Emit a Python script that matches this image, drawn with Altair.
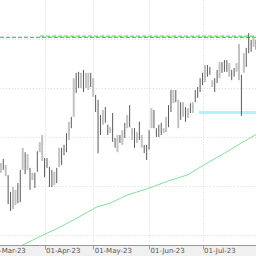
import altair as alt
import pandas as pd

# ---- data (prices in arbitrary units, gridlines every 5) ----
bar_kind = ("LDLDDLLDDL" "DLDLDDLLDD" "DDLDLDDDLD" "LDDLDLLDLD" "DDLDDLDDLD"
            "LDLDLDLDLD" "DDLDDDDLLD" "DLDLDLDLDL" "DDDDLDDLDD" "LDDDLDDLLD" "LDDDLD")
highs = [114.8, 115.6, 114.4, 112.3, 108.9, 109.9, 109.3, 110.7, 113.4, 117.9,
         117.0, 116.6, 113.8, 112.8, 112.8, 117.2, 119.1, 120.5, 115.8, 115.8,
         114.0, 113.4, 113.0, 113.8, 117.9, 117.9, 118.5, 120.9, 123.2, 124.2,
         132.1, 133.2, 133.4, 133.2, 133.8, 133.2, 133.2, 133.2, 132.1, 128.7,
         127.7, 124.6, 125.6, 126.2, 122.6, 122.1, 125.0, 119.9, 120.5, 120.5,
         121.5, 123.0, 124.6, 126.6, 121.9, 121.9, 121.1, 123.2, 120.5, 118.5,
         118.5, 121.5, 126.0, 125.6, 121.9, 122.6, 123.0, 121.9, 124.2, 126.6,
         129.7, 129.7, 129.7, 127.7, 127.2, 127.2, 126.2, 126.0, 127.0, 127.2,
         129.7, 130.3, 132.1, 133.2, 134.8, 134.8, 134.4, 131.7, 132.1, 133.8,
         135.4, 135.4, 135.8, 135.8, 135.2, 133.8, 134.2, 135.2, 139.1, 132.8,
         137.2, 138.3, 141.3, 139.9, 140.5, 139.9]
lows = [112.8, 113.4, 112.1, 106.4, 105.0, 105.4, 106.2, 106.6, 106.8, 113.4,
        112.5, 113.4, 109.3, 111.3, 109.7, 113.0, 117.0, 115.2, 111.9, 113.8,
        109.9, 109.9, 110.3, 110.7, 114.0, 114.4, 116.4, 117.0, 119.5, 121.9,
        124.2, 129.1, 130.1, 130.1, 129.3, 130.1, 129.7, 130.3, 128.3, 125.2,
        116.8, 120.5, 122.6, 123.0, 120.5, 120.9, 119.1, 117.9, 117.0, 118.9,
        118.5, 119.9, 121.9, 122.1, 119.5, 117.9, 118.9, 119.5, 117.9, 116.8,
        115.4, 117.5, 121.9, 121.9, 120.1, 120.1, 120.5, 120.9, 121.1, 122.1,
        125.2, 127.0, 127.2, 121.9, 123.6, 124.2, 123.2, 124.0, 125.0, 125.0,
        127.2, 128.1, 129.3, 130.7, 131.3, 132.4, 132.8, 130.3, 129.3, 131.1,
        132.1, 133.2, 133.4, 133.4, 132.4, 131.7, 132.4, 133.4, 131.7, 124.4,
        133.2, 134.4, 137.2, 137.5, 138.5, 137.9]

# moving average (trading-day position, value)
ma_pos = [4.65, 12.9, 23.2, 29.3, 37.6, 44.4, 49.9, 57.3, 65.6, 73.8, 82.0, 88.9, 97.1, 104.0, 110.0]
ma_val = [95.8, 97.8, 100.3, 101.7, 103.9, 105.8, 106.6, 108.3, 109.6, 111.1, 112.4, 114.5, 116.8, 118.9, 120.6]

level_green = 140.45
level_green2 = 140.65
green2_start = 21.1
level_cyan = 125.1
cyan_start = 86.5

tick_pos = [0, 23, 43, 66, 88]
tick_text = ["01-Mar-23", "01-Apr-23", "01-May-23", "01-Jun-23", "01-Jul-23"]

first_pos = 5
x_dom = [0, 110.0]
x_rng = [-11.3, 256]
view_start = 4.65
y_dom = [98.06, 148.06]

# ---- tables ----
bars = pd.DataFrame({
    "pos": [first_pos + i for i in range(len(highs))],
    "high": highs, "low": lows, "kind": list(bar_kind)})
ma = pd.DataFrame({"pos": ma_pos, "ma": ma_val})
lines = pd.DataFrame({
    "x": [view_start, green2_start, cyan_start],
    "x2": [x_dom[1], x_dom[1], x_dom[1]],
    "y": [level_green, level_green2, level_cyan],
    "name": ["g1", "g2", "c"]})

label_expr = "''"
for p, t in zip(reversed(tick_pos), reversed(tick_text)):
    label_expr = f"datum.value == {p} ? '{t}' : ({label_expr})"

grid_color = "#d9d9d9"
xs = alt.Scale(domain=x_dom, range=x_rng, nice=False, zero=False)
ys = alt.Scale(domain=y_dom, nice=False, zero=False)
x_axis = alt.Axis(values=tick_pos, labelExpr=label_expr, grid=True, gridDash=[1, 2],
                  gridColor=grid_color, labelAlign="left", labelFlush=False,
                  labelOverlap=False, labelFontSize=7, labelColor="#555555",
                  labelFont="DejaVu Sans", tickSize=4, tickColor="#999999",
                  domainColor="#999999", labelPadding=-3, labelOffset=1, title=None)
y_axis = alt.Axis(values=list(range(100, 150, 5)), labels=False, ticks=False, domain=False,
                  grid=True, gridDash=[1, 2], gridColor=grid_color, title=None, orient="right")

cyan = alt.Chart(lines).transform_filter("datum.name == 'c'").mark_rule(
    color="#b5f1f7", strokeWidth=3, clip=True).encode(
    x=alt.X("x:Q", scale=xs, axis=x_axis), x2="x2:Q",
    y=alt.Y("y:Q", scale=ys, axis=y_axis))
g2 = alt.Chart(lines).transform_filter("datum.name == 'g2'").mark_rule(
    color="#88ee88", strokeWidth=2, strokeDash=[4, 2], clip=True).encode(
    x=alt.X("x:Q", scale=xs), x2="x2:Q", y=alt.Y("y:Q", scale=ys))
g1 = alt.Chart(lines).transform_filter("datum.name == 'g1'").mark_rule(
    color="#22bb22", strokeWidth=1, strokeDash=[4, 2], clip=True).encode(
    x=alt.X("x:Q", scale=xs), x2="x2:Q", y=alt.Y("y:Q", scale=ys))

ma_line = alt.Chart(ma).mark_line(color="#7fe09c", strokeWidth=1, clip=True).encode(
    x=alt.X("pos:Q", scale=xs), y=alt.Y("ma:Q", scale=ys))

light = alt.Chart(bars).transform_filter("datum.kind == 'L'").mark_rule(
    color="#c2c2c2", strokeWidth=2, clip=True).encode(
    x=alt.X("pos:Q", scale=xs), y=alt.Y("low:Q", scale=ys), y2="high:Q")
dark = alt.Chart(bars).transform_filter("datum.kind == 'D'").mark_rule(
    color="#5a5a5a", strokeWidth=1, clip=True).encode(
    x=alt.X("pos:Q", scale=xs), y=alt.Y("low:Q", scale=ys), y2="high:Q")

chart = alt.layer(cyan, ma_line, g2, g1, light, dark).properties(
    width=256, height=245,
    autosize=alt.AutoSizeParams(type="none"),
    padding={"left": 0, "top": 0, "right": 0, "bottom": 11},
    background="#f0f0f0",
).configure_view(fill="white", stroke=None)

chart.save("out.html", embed_options={"renderer": "svg", "actions": False})
